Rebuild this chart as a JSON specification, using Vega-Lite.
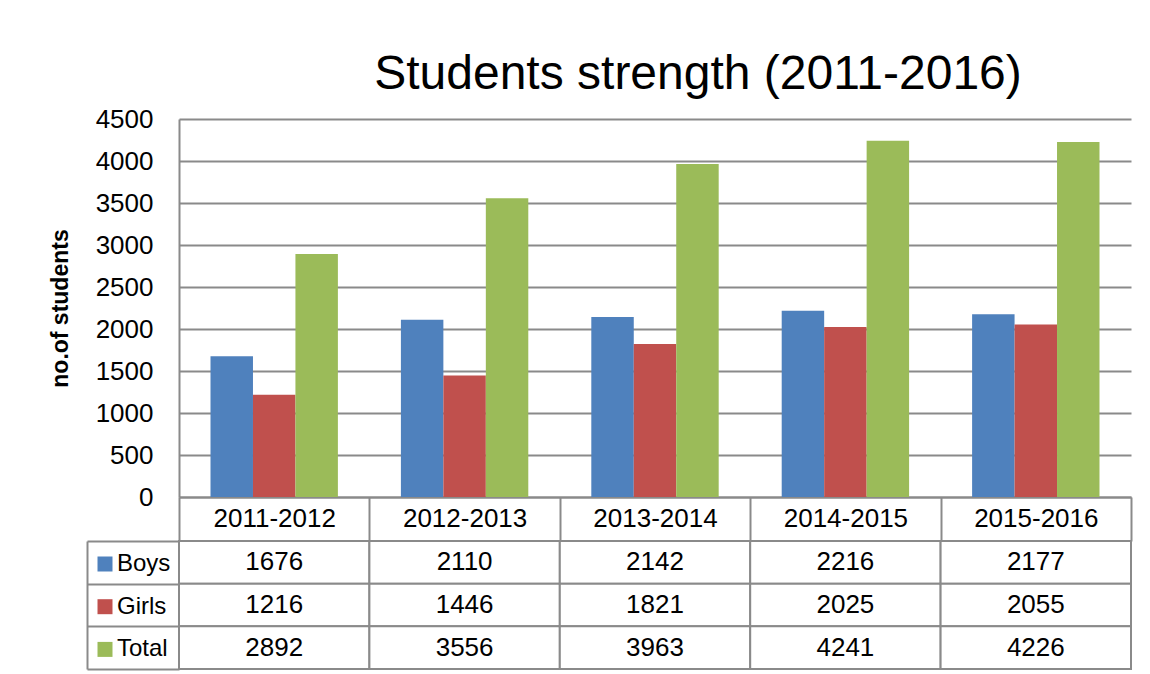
{
  "$schema": "https://vega.github.io/schema/vega-lite/v6.json",
  "background": "white",
  "padding": {"left": 49, "top": 51, "right": 17, "bottom": 5},
  "data": {
    "values": [
      {"year": "2011-2012", "series": "Boys", "value": 1676},
      {"year": "2011-2012", "series": "Girls", "value": 1216},
      {"year": "2011-2012", "series": "Total", "value": 2892},
      {"year": "2012-2013", "series": "Boys", "value": 2110},
      {"year": "2012-2013", "series": "Girls", "value": 1446},
      {"year": "2012-2013", "series": "Total", "value": 3556},
      {"year": "2013-2014", "series": "Boys", "value": 2142},
      {"year": "2013-2014", "series": "Girls", "value": 1821},
      {"year": "2013-2014", "series": "Total", "value": 3963},
      {"year": "2014-2015", "series": "Boys", "value": 2216},
      {"year": "2014-2015", "series": "Girls", "value": 2025},
      {"year": "2014-2015", "series": "Total", "value": 4241},
      {"year": "2015-2016", "series": "Boys", "value": 2177},
      {"year": "2015-2016", "series": "Girls", "value": 2055},
      {"year": "2015-2016", "series": "Total", "value": 4226}
    ]
  },
  "vconcat": [
    {
      "width": 952,
      "height": 378,
      "title": {
        "text": "Students strength (2011-2016)",
        "font": "Liberation Sans",
        "fontSize": 48,
        "fontWeight": "normal",
        "color": "black",
        "anchor": "middle",
        "dx": 43,
        "baseline": "alphabetic",
        "offset": -31
      },
      "mark": {"type": "bar"},
      "encoding": {
        "x": {
          "field": "year",
          "type": "nominal",
          "scale": {"paddingInner": 0, "paddingOuter": 0},
          "axis": {
            "orient": "bottom",
            "title": null,
            "labelAngle": 0,
            "labelFont": "Liberation Sans",
            "labelFontSize": 26,
            "labelColor": "black",
            "labelPadding": -36,
            "domain": true,
            "domainColor": "#8a8a8a",
            "domainWidth": 2,
            "ticks": true,
            "tickBand": "extent",
            "tickSize": 44,
            "tickColor": "#8a8a8a",
            "tickWidth": 2,
            "grid": false
          }
        },
        "xOffset": {
          "field": "series",
          "type": "nominal",
          "scale": {"paddingInner": 0, "paddingOuter": 0.742}
        },
        "y": {
          "field": "value",
          "type": "quantitative",
          "scale": {"domain": [0, 4500], "nice": false},
          "axis": {
            "values": [0, 500, 1000, 1500, 2000, 2500, 3000, 3500, 4000, 4500],
            "format": "d",
            "grid": true,
            "gridColor": "#8a8a8a",
            "gridWidth": 2,
            "domain": true,
            "domainColor": "#8a8a8a",
            "domainWidth": 2,
            "ticks": false,
            "labelFont": "Liberation Sans",
            "labelFontSize": 26,
            "labelColor": "black",
            "labelPadding": 26,
            "title": "no.of students",
            "titleFont": "Liberation Sans",
            "titleFontSize": 23,
            "titleFontWeight": "bold",
            "titleColor": "black",
            "titlePadding": 23
          }
        },
        "color": {
          "field": "series",
          "type": "nominal",
          "scale": {"domain": ["Boys", "Girls", "Total"], "range": ["#4f81bd", "#c0504d", "#9bbb59"]},
          "legend": {
            "title": null,
            "orient": "none",
            "legendX": -86,
            "legendY": 433,
            "symbolType": "square",
            "symbolSize": 225,
            "symbolStrokeWidth": 0,
            "symbolOpacity": 1,
            "labelFont": "Liberation Sans",
            "labelFontSize": 24,
            "labelColor": "black",
            "labelOffset": 0,
            "rowPadding": 18.7,
            "padding": 0
          }
        }
      }
    },
    {
      "width": 952,
      "height": 128,
      "encoding": {
        "x": {
          "field": "year",
          "type": "nominal",
          "scale": {"paddingInner": 0, "paddingOuter": 0},
          "axis": null
        },
        "y": {
          "field": "series",
          "type": "nominal",
          "scale": {"paddingInner": 0, "paddingOuter": 0},
          "axis": {
            "orient": "left",
            "offset": 92,
            "domain": true,
            "domainColor": "#8a8a8a",
            "domainWidth": 2,
            "ticks": true,
            "tickBand": "extent",
            "tickSize": -92,
            "tickColor": "#8a8a8a",
            "tickWidth": 2,
            "labels": false,
            "title": null,
            "grid": false
          }
        }
      },
      "layer": [
        {
          "mark": {"type": "rect", "fill": "white", "stroke": "#8a8a8a", "strokeWidth": 2}
        },
        {
          "mark": {"type": "text", "font": "Liberation Sans", "fontSize": 26, "color": "black"},
          "encoding": {
            "text": {"field": "value", "type": "quantitative", "format": "d"}
          }
        }
      ]
    }
  ],
  "spacing": 44,
  "bounds": "flush",
  "align": "each",
  "resolve": {"scale": {"y": "independent", "x": "independent"}},
  "config": {
    "view": {"stroke": null},
    "font": "Liberation Sans"
  }
}
